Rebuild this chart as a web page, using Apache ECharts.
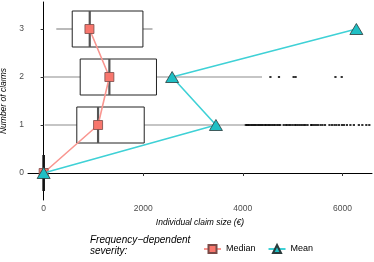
<!DOCTYPE html>
<html>
<head>
<meta charset="utf-8">
<script src="https://cdn.jsdelivr.net/npm/echarts@6/dist/echarts.min.js"></script>
<style>
html,body{margin:0;padding:0;background:#fff;}
#chart{width:374px;height:262px;}
</style>
</head>
<body>
<div id="chart"></div>
<script>
// ---- data ----
const claims = [0, 1, 2, 3];
const whiskerLow  = [0, 20, 0, 254];
const q1          = [0, 666, 734, 574];
const boxMedian   = [0, 1093, 1320, 926];
const q3          = [0, 2020, 2266, 1994];
const whiskerHigh = [0, 4054, 4386, 2186];
const medianSeverity = [0, 1093, 1320, 920];
const meanSeverity   = [0, 3460, 2580, 6280];
const outliersTwo = [4554, 4726, 5020, 5060, 5860, 5986];
const outliersOne = [4060, 4085, 4110, 4130, 4160, 4190, 4215, 4240, 4270, 4300, 4330, 4355,
  4380, 4410, 4445, 4470, 4500, 4530, 4555, 4590, 4620, 4650, 4690, 4720, 4750, 4820,
  4860, 4890, 4930, 4960, 5000, 5040, 5070, 5110, 5150, 5190, 5230, 5260, 5300, 5370,
  5390, 5430, 5470, 5510, 5560, 5600, 5650, 5740, 5790, 5840, 5880, 5930, 5990,
  6030, 6090, 6160, 6230, 6330, 6400, 6480, 6540];
const xTicks = [0, 2000, 4000, 6000];
const yTicks = [0, 1, 2, 3];

const FONT = '"Liberation Sans", Arial, sans-serif';
const chart = echarts.init(document.getElementById('chart'), null, {renderer: 'canvas'});

const boxData = claims.map((c, i) => [c, whiskerLow[i], q1[i], boxMedian[i], q3[i], whiskerHigh[i]]);
const outlierData = outliersOne.map(v => [v, 1]).concat(outliersTwo.map(v => [v, 2]));

function renderBox(params, api) {
  const y = api.value(0);
  const mid = api.coord([0, y])[1];
  const top = api.coord([0, y + 0.375])[1];
  const bot = api.coord([0, y - 0.375])[1];
  const xwl = api.coord([api.value(1), y])[0];
  const xq1 = api.coord([api.value(2), y])[0];
  const xm  = api.coord([api.value(3), y])[0];
  const xq3 = api.coord([api.value(4), y])[0];
  const xwh = api.coord([api.value(5), y])[0];
  const zero = (xq3 - xq1) < 0.5;
  return {
    type: 'group',
    children: [
      {type: 'line', shape: {x1: xwl, y1: mid, x2: xq1, y2: mid}, style: {stroke: '#8c8c8c', lineWidth: 1.2}},
      {type: 'line', shape: {x1: xq3, y1: mid, x2: xwh, y2: mid}, style: {stroke: '#8c8c8c', lineWidth: 1.2}},
      {type: 'rect', shape: {x: xq1, y: top, width: xq3 - xq1, height: bot - top}, style: {fill: 'none', stroke: '#222', lineWidth: 1}},
      {type: 'line', shape: {x1: xm, y1: top, x2: xm, y2: bot}, style: {stroke: zero ? '#111' : '#555', lineWidth: zero ? 2.6 : 2.2}}
    ]
  };
}

const option = {
  animation: false,
  textStyle: {fontFamily: FONT},
  grid: {left: 28, right: 2, top: 2, bottom: 62, containLabel: false, outerBoundsMode: 'none'},
  xAxis: {
    type: 'value', min: -314, max: 6594,
    name: 'Individual claim size (€)', nameLocation: 'middle', nameGap: 17,
    nameTextStyle: {fontStyle: 'italic', fontSize: 8.5, color: '#000', fontFamily: FONT},
    axisLine: {show: true, lineStyle: {color: '#000', width: 1}},
    axisTick: {show: true, length: 3, lineStyle: {color: '#333'}, customValues: xTicks},
    axisLabel: {color: '#4d4d4d', fontSize: 8.5, margin: 4, customValues: xTicks, fontFamily: FONT,
      formatter: v => String(v)},
    splitLine: {show: false}
  },
  yAxis: {
    type: 'value', min: -0.5625, max: 3.5625,
    name: 'Number of claims', nameLocation: 'middle', nameGap: 15, nameRotate: 90,
    nameTextStyle: {fontStyle: 'italic', fontSize: 8.5, color: '#000', fontFamily: FONT},
    axisLine: {show: true, lineStyle: {color: '#000', width: 1}},
    axisTick: {show: true, length: 3, lineStyle: {color: '#333'}, customValues: yTicks},
    axisLabel: {color: '#4d4d4d', fontSize: 8.5, margin: 4, customValues: yTicks, fontFamily: FONT,
      formatter: v => String(v)},
    splitLine: {show: false}
  },
  legend: {
    left: 198, top: 239, itemWidth: 17, itemHeight: 10, itemGap: 12,
    textStyle: {fontSize: 9, color: '#000', fontFamily: FONT},
    data: ['Median', 'Mean']
  },
  graphic: [{
    type: 'text', left: 90, top: 234,
    style: {text: 'Frequency\u2212dependent\nseverity:', fontStyle: 'italic', fontSize: 10, lineHeight: 11.5, fill: '#000', fontFamily: FONT}
  }],
  series: [
    {
      type: 'custom', name: 'box', renderItem: renderBox, data: boxData,
      encode: {x: [1, 2, 3, 4, 5], y: 0}, z: 1, silent: true
    },
    {
      type: 'scatter', name: 'outliers', data: outlierData, symbol: 'rect', symbolSize: [2.2, 2],
      itemStyle: {color: '#000'}, z: 2, clip: true, silent: true
    },
    {
      type: 'line', name: 'Median', data: medianSeverity.map((v, i) => [v, claims[i]]),
      symbol: 'rect', symbolSize: 9,
      lineStyle: {color: '#F99690', width: 1.6},
      itemStyle: {color: '#F8766D', borderColor: '#7a4a47', borderWidth: 0.8},
      z: 3
    },
    {
      type: 'line', name: 'Mean', data: meanSeverity.map((v, i) => [v, claims[i]]),
      symbol: 'triangle', symbolSize: [13, 11],
      lineStyle: {color: '#3FD1D6', width: 1.6},
      itemStyle: {color: '#1FBFC4', borderColor: '#2a3b3c', borderWidth: 0.8},
      z: 4
    }
  ]
};
chart.setOption(option);
</script>
</body>
</html>
